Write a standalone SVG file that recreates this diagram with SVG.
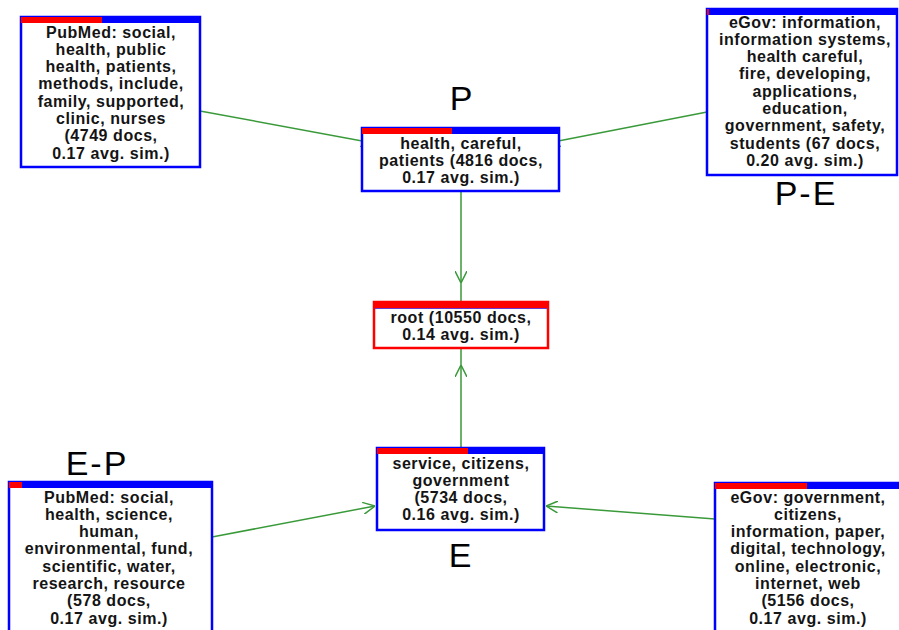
<svg xmlns="http://www.w3.org/2000/svg" width="899" height="630" viewBox="0 0 899 630">
<style>
.box{fill:#ffffff;stroke:#0000ff;stroke-width:2.5}
.rootbox{fill:#ffffff;stroke:#ff0000;stroke-width:2.5}
.hb{fill:#0000ff}
.hr{fill:#ff0000}
.t{font-family:"Liberation Sans",Arial,sans-serif;font-weight:bold;font-size:16px;letter-spacing:0.55px;fill:#141414;text-anchor:middle}
.big{font-family:"Liberation Sans",Arial,sans-serif;font-size:34px;fill:#000000;text-anchor:middle;letter-spacing:2px}
.c{fill:none;stroke:#3a9a3a;stroke-width:1.5}
</style>
<defs>
<marker id="ah" viewBox="0 0 12 12" refX="12" refY="6" markerWidth="12" markerHeight="12" markerUnits="userSpaceOnUse" orient="auto">
<path d="M0,0 L12,6 L0,12" fill="none" stroke="#3a9a3a" stroke-width="1.5"/>
</marker>
</defs>
<rect width="899" height="630" fill="#ffffff"/>
<g id="connectors">
<path class="c" d="M200,111 L373,143" marker-end="url(#ah)"/>
<path class="c" d="M707,112 L548,143" marker-end="url(#ah)"/>
<path class="c" d="M461,191 L461,283 L461,302" marker-mid="url(#ah)"/>
<path class="c" d="M461,448 L461,365 L461,348" marker-mid="url(#ah)"/>
<path class="c" d="M212,537 L375,506"  marker-end="url(#ah)"/>
<path class="c" d="M715,519 L546,506" marker-end="url(#ah)"/>
</g>
<g id="node-pubmed-p">
<rect class="box" x="21" y="17" width="179" height="150"/>
<rect class="hb" x="21" y="17" width="179" height="6"/>
<rect class="hr" x="21" y="17" width="81" height="6"/>
<text class="t" x="111" y="37.5">PubMed: social,</text>
<text class="t" x="111" y="54.8">health, public</text>
<text class="t" x="111" y="72.1">health, patients,</text>
<text class="t" x="111" y="89.4">methods, include,</text>
<text class="t" x="111" y="106.7">family, supported,</text>
<text class="t" x="111" y="124">clinic, nurses</text>
<text class="t" x="111" y="141.3">(4749 docs,</text>
<text class="t" x="111" y="158.6">0.17 avg. sim.)</text>
</g>
<g id="node-p">
<rect class="box" x="362" y="128" width="197" height="63"/>
<rect class="hb" x="362" y="128" width="197" height="6"/>
<rect class="hr" x="362" y="128" width="90" height="6"/>
<text class="t" x="461" y="148.5">health, careful,</text>
<text class="t" x="461" y="165.8">patients (4816 docs,</text>
<text class="t" x="461" y="183.1">0.17 avg. sim.)</text>
<text class="big" x="462" y="110">P</text>
</g>
<g id="node-egov-pe">
<rect class="box" x="707" y="9" width="190" height="166"/>
<rect class="hb" x="707" y="9" width="190" height="6"/>
<rect class="hr" x="707" y="9" width="2" height="6"/>
<text class="t" x="805" y="27.5">eGov: information,</text>
<text class="t" x="805" y="44.8">information systems,</text>
<text class="t" x="805" y="62.1">health careful,</text>
<text class="t" x="805" y="79.4">fire, developing,</text>
<text class="t" x="805" y="96.7">applications,</text>
<text class="t" x="805" y="114">education,</text>
<text class="t" x="805" y="131.3">government, safety,</text>
<text class="t" x="805" y="148.6">students (67 docs,</text>
<text class="t" x="805" y="165.9">0.20 avg. sim.)</text>
<text class="big" x="806" y="205">P-E</text>
</g>
<g id="node-root">
<rect class="rootbox" x="374" y="302" width="174" height="46"/>
<rect class="hr" x="374" y="302" width="174" height="6"/>
<line x1="375" y1="308.5" x2="547" y2="308.5" stroke="#6a3ad0" stroke-width="1"/>
<text class="t" x="461" y="322.5">root (10550 docs,</text>
<text class="t" x="461" y="339.8">0.14 avg. sim.)</text>
</g>
<g id="node-e">
<rect class="box" x="377" y="448" width="167" height="82"/>
<rect class="hb" x="377" y="448" width="167" height="6"/>
<rect class="hr" x="377" y="448" width="91" height="6"/>
<text class="t" x="461" y="468.5">service, citizens,</text>
<text class="t" x="461" y="485.8">government</text>
<text class="t" x="461" y="503.1">(5734 docs,</text>
<text class="t" x="461" y="520.4">0.16 avg. sim.)</text>
<text class="big" x="461" y="567">E</text>
</g>
<g id="node-pubmed-ep">
<rect class="box" x="9" y="482" width="203" height="160"/>
<rect class="hb" x="9" y="482" width="203" height="6"/>
<rect class="hr" x="9" y="482" width="13" height="6"/>
<text class="t" x="109" y="502.5">PubMed: social,</text>
<text class="t" x="109" y="519.8">health, science,</text>
<text class="t" x="109" y="537.1">human,</text>
<text class="t" x="109" y="554.4">environmental, fund,</text>
<text class="t" x="109" y="571.7">scientific, water,</text>
<text class="t" x="109" y="589">research, resource</text>
<text class="t" x="109" y="606.3">(578 docs,</text>
<text class="t" x="109" y="623.6">0.17 avg. sim.)</text>
<text class="big" x="97" y="475">E-P</text>
</g>
<g id="node-egov-e">
<rect class="box" x="715" y="483" width="190" height="160"/>
<rect class="hb" x="715" y="483" width="190" height="6"/>
<rect class="hr" x="715" y="483" width="92" height="6"/>
<text class="t" x="808" y="502.5">eGov: government,</text>
<text class="t" x="808" y="519.8">citizens,</text>
<text class="t" x="808" y="537.1">information, paper,</text>
<text class="t" x="808" y="554.4">digital, technology,</text>
<text class="t" x="808" y="571.7">online, electronic,</text>
<text class="t" x="808" y="589">internet, web</text>
<text class="t" x="808" y="606.3">(5156 docs,</text>
<text class="t" x="808" y="623.6">0.17 avg. sim.)</text>
</g>
</svg>
